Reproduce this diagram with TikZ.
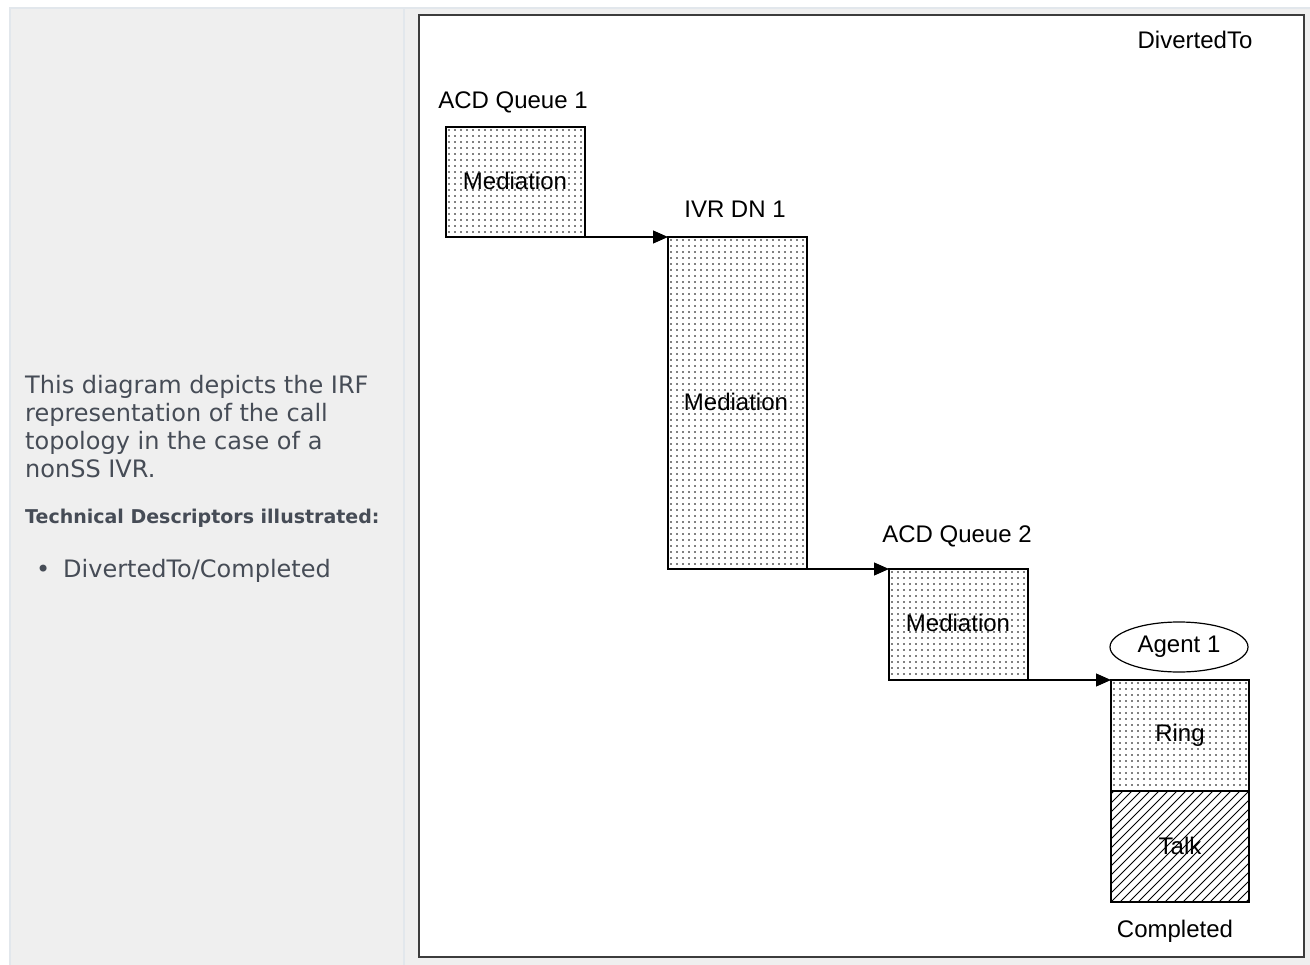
\documentclass[tikz,border=0pt]{standalone}
\usepackage{fontspec}
\setmainfont{Liberation Sans}
\newfontfamily\dejavu{DejaVu Sans}
\usetikzlibrary{arrows.meta,shapes.geometric}
\definecolor{panelgray}{RGB}{239,239,239}
\definecolor{edgeblue}{RGB}{226,231,236}
\definecolor{textgray}{RGB}{70,76,86}
\definecolor{frame}{RGB}{60,60,60}
% dotted fill: #1,#2 top-left, #3,#4 bottom-right
\newcommand{\dotgrid}[4]{%
  \begin{scope}
    \clip (#1,#2) rectangle (#3,#4);
    \pgfmathsetmacro{\xa}{#1+3}\pgfmathsetmacro{\xb}{#1+9}
    \pgfmathsetmacro{\ya}{#2+3}\pgfmathsetmacro{\yb}{#2+9}
    \foreach \px in {\xa,\xb,...,#3}{
      \foreach \py in {\ya,\yb,...,#4}{
        \fill (\px,\py) circle (0.8);
      }
    }
  \end{scope}}
\tikzset{
  stage/.style={draw=black, line width=1.2pt},
  lbl/.style={font=\fontsize{24}{28}\selectfont, text=black, inner sep=0pt},
  flow/.style={-{Triangle[length=15pt,width=13pt]}, line width=1.2pt},
  desc/.style={font=\dejavu\fontsize{24}{28}\selectfont, text=textgray, inner sep=0pt, anchor=base west}
}
\begin{document}
\begin{tikzpicture}[x=1pt,y=-1pt]
\useasboundingbox (0,0) rectangle (1310,965);
\fill[white] (0,0) rectangle (1310,965);
\fill[panelgray] (10,8) rectangle (1310,965);
\draw[edgeblue, line width=2pt] (10,965) -- (10,8) -- (1310,8);
\draw[edgeblue, line width=2pt] (404,8) -- (404,965);
% frame
\fill[white] (419,15) rectangle (1304,957);
\draw[frame, line width=2pt] (419,15) rectangle (1304,957);

% left description
\node[desc] (d1) at (25,394) {This diagram depicts the IRF};
\node[desc] (d2) at (25,422) {representation of the call};
\node[desc] (d3) at (25,450) {topology in the case of a};
\node[desc] (d4) at (25,478) {nonSS IVR.};
\node[desc, font=\dejavu\bfseries\fontsize{19}{22}\selectfont] (d5) at (25,523) {Technical Descriptors illustrated:};
\node[desc] (d6) at (36,577) {\textbullet};
\node[desc] (d7) at (63,577) {DivertedTo/Completed};

% fills
\dotgrid{446}{127}{585}{237}
\dotgrid{668}{237}{807}{569}
\dotgrid{889}{569}{1028}{680}
\dotgrid{1111}{680}{1249}{791}
\begin{scope}
  \clip (1111,791) rectangle (1249,902);
  \foreach \k in {-14,...,16}{
    \draw[line width=0.9pt] (1111+\k*9,902) -- (1222+\k*9,791);
  }
\end{scope}

% diagram
\node[lbl] (div) at (1195,40) {DivertedTo};

\draw[stage] (446,127) rectangle (585,237);
\coordinate (a2) at (585,237);
\node[lbl] (aq1) at (513,102) {ACD Queue 1};
\node[lbl] (m1) at (515,181) {Mediation};

\draw[stage] (668,237) rectangle (807,569);
\coordinate (b1) at (668,237); \coordinate (b2) at (807,569);
\node[lbl] (ivr) at (735,209) {IVR DN 1};
\node[lbl] (m2) at (736,402) {Mediation};

\draw[stage] (889,569) rectangle (1028,680);
\coordinate (c1) at (889,569); \coordinate (c2) at (1028,680);
\node[lbl] (aq2) at (957,536) {ACD Queue 2};
\node[lbl] (m3) at (958,623) {Mediation};

\draw[stage] (1111,680) rectangle (1249,791);
\draw[stage] (1111,791) rectangle (1249,902);
\coordinate (d1c) at (1111,680);
\node[lbl] (ring) at (1180,735) {Ring};
\node[lbl] (talk) at (1180,846) {Talk};

\node[draw=black, line width=1.2pt, ellipse, minimum width=138pt, minimum height=50pt, inner sep=0pt, font=\fontsize{24}{28}\selectfont] (ag) at (1179,647) {Agent 1};
\node[lbl] (comp) at (1175,931) {Completed};

\draw[flow] (a2) -- (b1);
\draw[flow] (b2) -- (c1);
\draw[flow] (c2) -- (d1c);
\end{tikzpicture}
\end{document}
